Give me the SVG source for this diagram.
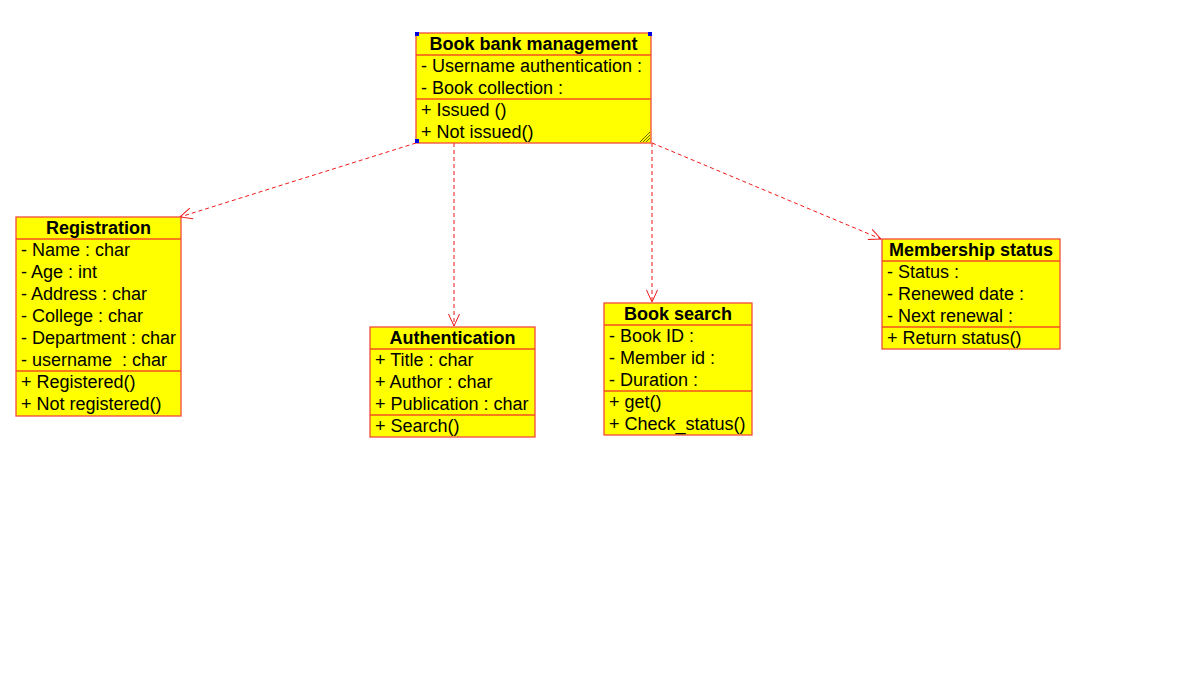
<svg xmlns="http://www.w3.org/2000/svg" width="1185" height="676" viewBox="0 0 1185 676">
  <defs>
    <style>
      .box { fill: #FFFF00; stroke: #F24A3C; stroke-width: 1.3; }
      .sep { stroke: #F2501E; stroke-width: 1.3; }
      .title { font-family: "Liberation Sans", Arial, sans-serif; font-size: 18px; font-weight: bold; fill: #000; text-anchor: middle; }
      .item { font-family: "Liberation Sans", Arial, sans-serif; font-size: 18px; fill: #000; }
      .dep { fill: none; stroke: #F01818; stroke-width: 1; stroke-dasharray: 4 3; }
      .handle { fill: #0000E0; }
      .grip { stroke: #6E6E00; stroke-width: 1; }
    </style>
    <marker id="open-arrow" viewBox="0 0 14 14" refX="13" refY="7" markerWidth="14" markerHeight="14" markerUnits="userSpaceOnUse" orient="auto">
      <path d="M1,1.5 L13,7 L1,12.5" fill="none" stroke="#F01818" stroke-width="1"/>
    </marker>
  </defs>

  <rect width="1185" height="676" fill="#FFFFFF"/>

  <!-- dependency connectors -->
  <g id="connectors">
    <line class="dep" x1="416" y1="143" x2="180" y2="217" marker-end="url(#open-arrow)"/>
    <line class="dep" x1="454" y1="143" x2="454" y2="326" marker-end="url(#open-arrow)"/>
    <line class="dep" x1="652" y1="143" x2="652" y2="302" marker-end="url(#open-arrow)"/>
    <line class="dep" x1="652" y1="143" x2="881" y2="239" marker-end="url(#open-arrow)"/>
  </g>

  <!-- Book bank management -->
  <g id="book-bank-management">
    <rect class="box" x="416" y="33" width="235" height="110"/>
    <line class="sep" x1="416" y1="55" x2="651" y2="55"/>
    <line class="sep" x1="416" y1="99" x2="651" y2="99"/>
    <text class="title" x="533.5" y="50">Book bank management</text>
    <text class="item" x="421" y="72">- Username authentication :</text>
    <text class="item" x="421" y="94">- Book collection :</text>
    <text class="item" x="421" y="116">+ Issued ()</text>
    <text class="item" x="421" y="138">+ Not issued()</text>
    <rect class="handle" x="415" y="32" width="4" height="4"/>
    <rect class="handle" x="648" y="32" width="4" height="4"/>
    <rect class="handle" x="415" y="139" width="4" height="4"/>
    <line class="grip" x1="640" y1="142" x2="650" y2="132"/>
    <line class="grip" x1="643" y1="142" x2="650" y2="135"/>
    <line class="grip" x1="646" y1="142" x2="650" y2="138"/>
  </g>

  <!-- Registration -->
  <g id="registration">
    <rect class="box" x="16" y="217" width="165" height="199"/>
    <line class="sep" x1="16" y1="239" x2="181" y2="239"/>
    <line class="sep" x1="16" y1="371" x2="181" y2="371"/>
    <text class="title" x="98.5" y="234">Registration</text>
    <text class="item" x="21" y="256">- Name : char</text>
    <text class="item" x="21" y="278">- Age : int</text>
    <text class="item" x="21" y="300">- Address : char</text>
    <text class="item" x="21" y="322">- College : char</text>
    <text class="item" x="21" y="344">- Department : char</text>
    <text class="item" x="21" y="366" xml:space="preserve">- username  : char</text>
    <text class="item" x="21" y="388">+ Registered()</text>
    <text class="item" x="21" y="410">+ Not registered()</text>
  </g>

  <!-- Authentication -->
  <g id="authentication">
    <rect class="box" x="370" y="327" width="165" height="110"/>
    <line class="sep" x1="370" y1="349" x2="535" y2="349"/>
    <line class="sep" x1="370" y1="415" x2="535" y2="415"/>
    <text class="title" x="452.5" y="344">Authentication</text>
    <text class="item" x="375" y="366">+ Title : char</text>
    <text class="item" x="375" y="388">+ Author : char</text>
    <text class="item" x="375" y="410">+ Publication : char</text>
    <text class="item" x="375" y="432">+ Search()</text>
  </g>

  <!-- Book search -->
  <g id="book-search">
    <rect class="box" x="604" y="303" width="148" height="132"/>
    <line class="sep" x1="604" y1="325" x2="752" y2="325"/>
    <line class="sep" x1="604" y1="391" x2="752" y2="391"/>
    <text class="title" x="678" y="320">Book search</text>
    <text class="item" x="609" y="342">- Book ID :</text>
    <text class="item" x="609" y="364">- Member id :</text>
    <text class="item" x="609" y="386">- Duration :</text>
    <text class="item" x="609" y="408">+ get()</text>
    <text class="item" x="609" y="430">+ Check_status()</text>
  </g>

  <!-- Membership status -->
  <g id="membership-status">
    <rect class="box" x="882" y="239" width="178" height="110"/>
    <line class="sep" x1="882" y1="261" x2="1060" y2="261"/>
    <line class="sep" x1="882" y1="327" x2="1060" y2="327"/>
    <text class="title" x="971" y="256">Membership status</text>
    <text class="item" x="887" y="278">- Status :</text>
    <text class="item" x="887" y="300">- Renewed date :</text>
    <text class="item" x="887" y="322">- Next renewal :</text>
    <text class="item" x="887" y="344">+ Return status()</text>
  </g>
</svg>
